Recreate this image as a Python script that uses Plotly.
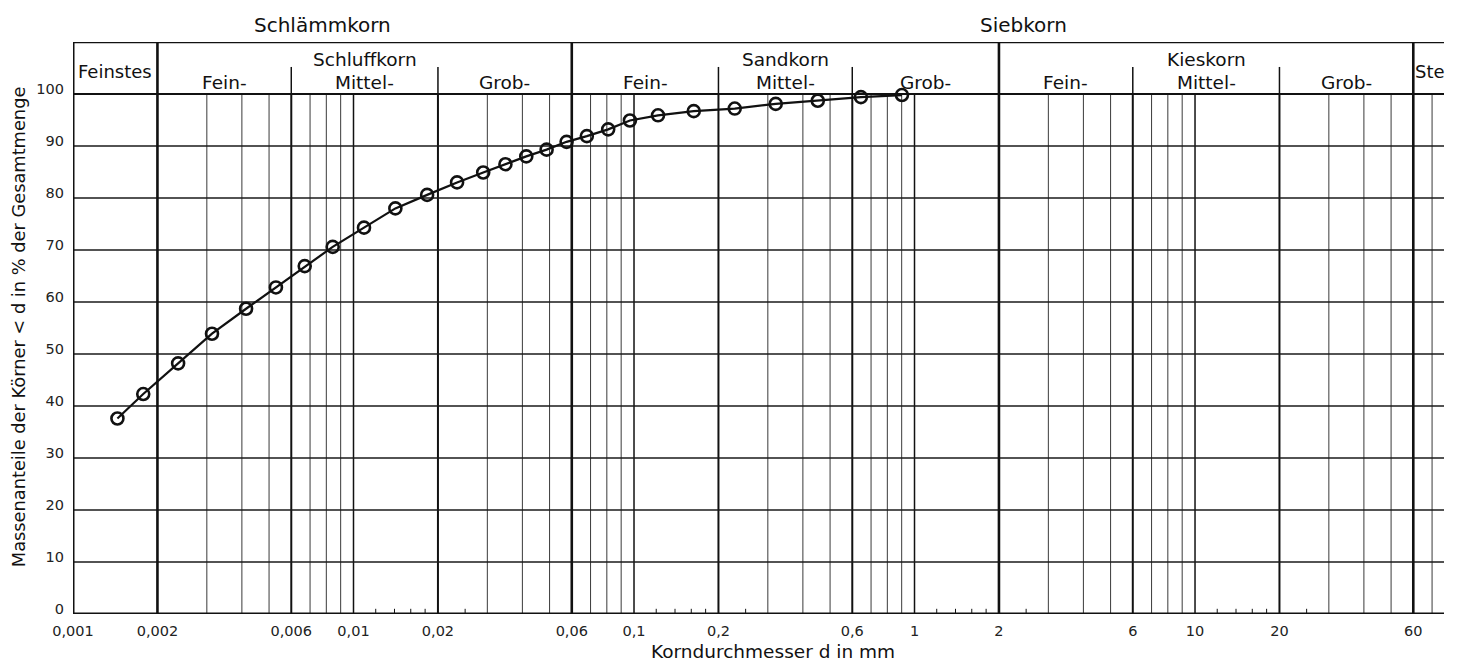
import plotly.graph_objects as go
import numpy as np

# ---- data ----
diameter_mm = [0.00144, 0.00178, 0.00237, 0.00313, 0.00414, 0.00529, 0.0067, 0.00843,
               0.0109, 0.0141, 0.0183, 0.0234, 0.0290, 0.0348, 0.0413, 0.0488, 0.0575,
               0.0679, 0.0809, 0.0967, 0.1218, 0.1633, 0.2286, 0.320, 0.452, 0.644, 0.902]
passing_pct = [37.6, 42.3, 48.2, 53.9, 58.7, 62.8, 66.9, 70.6, 74.3, 78.0, 80.6, 83.0,
               84.9, 86.5, 88.0, 89.3, 90.8, 91.9, 93.2, 94.9, 95.9, 96.7, 97.2, 98.1,
               98.7, 99.4, 99.8]

x_tick_vals = [0.001, 0.002, 0.006, 0.01, 0.02, 0.06, 0.1, 0.2, 0.6, 1, 2, 6, 10, 20, 60]
x_tick_text = ["0,001", "0,002", "0,006", "0,01", "0,02", "0,06", "0,1", "0,2", "0,6",
               "1", "2", "6", "10", "20", "60"]
y_tick_vals = [0, 10, 20, 30, 40, 50, 60, 70, 80, 90, 100]
y_tick_text = [str(v) for v in y_tick_vals]

# grid structure (axis values)
frame_lines = [0.001, 0.002, 0.06, 2, 60]
medium_lines = [0.006, 0.02, 0.2, 0.6, 6, 20]
decade_lines = [0.01, 0.1, 1, 10]
thin_lines = [0.003, 0.004, 0.005, 0.007, 0.008, 0.009, 0.03, 0.04, 0.05,
              0.07, 0.08, 0.09, 0.3, 0.4, 0.5, 0.7, 0.8, 0.9,
              3, 4, 5, 7, 8, 9, 30, 40, 50, 70]
minor_ticks = [0.012, 0.014, 0.016, 0.018, 0.025, 0.12, 0.14, 0.16, 0.18, 0.25,
               1.2, 1.4, 1.6, 1.8, 2.5, 12, 14, 16, 18, 25]
header_dividers = [0.006, 0.02, 0.2, 0.6, 6, 20]
h_grid = [10, 20, 30, 40, 50, 60, 70, 80, 90]

groups = [("Schluffkorn", 0.002, 0.06), ("Sandkorn", 0.06, 2), ("Kieskorn", 2, 60)]
sub_groups = [("Fein-", 0.002, 0.006), ("Mittel-", 0.006, 0.02), ("Grob-", 0.02, 0.06),
              ("Fein-", 0.06, 0.2), ("Mittel-", 0.2, 0.6), ("Grob-", 0.6, 2),
              ("Fein-", 2, 6), ("Mittel-", 6, 20), ("Grob-", 20, 60)]

X_MIN, X_MAX = 0.001, 77.2
Y_TOP = 110
FONT = "DejaVu Sans"
INK = "#111111"

fig = go.Figure()
fig.add_trace(go.Scatter(
    x=diameter_mm, y=passing_pct, mode="lines+markers",
    line=dict(color=INK, width=2.2),
    marker=dict(symbol="circle-open", size=12, color=INK, line=dict(width=2.6)),
    showlegend=False, cliponaxis=False))

shapes = []
def vline(x, y0, y1, w, c=INK):
    shapes.append(dict(type="line", xref="x", yref="y", x0=x, x1=x, y0=y0, y1=y1,
                       line=dict(color=c, width=w), layer="below"))
def hline(y, w, c=INK):
    shapes.append(dict(type="line", xref="x", yref="y", x0=X_MIN, x1=X_MAX, y0=y, y1=y,
                       line=dict(color=c, width=w), layer="below"))

for x in thin_lines:
    vline(x, 0, 100, 1, "#3a3a3a")
for x in decade_lines:
    vline(x, 0, 100, 1.5)
for x in medium_lines:
    vline(x, 0, 100, 2)
for x in header_dividers:
    vline(x, 100, 105.2, 1.5)
for x in minor_ticks:
    vline(x, 0, 1, 1)
for y in h_grid:
    hline(y, 1.4, "#1a1a1a")
hline(100, 2)
hline(Y_TOP, 2.5)
hline(0, 3)
for x in frame_lines:
    vline(x, 0, Y_TOP, 3 if x == 0.001 else 2.6)

ann = []
def lgm(a, b):
    # centre of a band on the log axis (annotations on log axes take log10 values)
    return (np.log10(a) + np.log10(b)) / 2
def text(x, y, s, size, xanchor="center", xref="x", yref="y", angle=0):
    ann.append(dict(x=x, y=y, xref=xref, yref=yref, text=s, showarrow=False,
                    xanchor=xanchor, yanchor="middle", textangle=angle,
                    font=dict(family=FONT, size=size, color=INK)))

# top-level headers sit above the axis range -> paper coordinates vertically
text(lgm(0.001, 0.06), 1.0297, "Schlämmkorn", 20, yref="paper")
text(0.387, 1.0297, "Siebkorn", 20, yref="paper")
text(lgm(0.001, 0.002), 104.4, "Feinstes", 18)
text(np.log10(60), 104.4, "Ste", 18, xanchor="left")
for name, a, b in groups:
    text(lgm(a, b), 106.7, name, 18.5)
for name, a, b in sub_groups:
    text(lgm(a, b), 102.2, name, 18.5)

text(-0.504, -0.066, "Korndurchmesser d in mm", 18.5, yref="paper")
text(-0.040, 0.5017, "Massenanteile der Körner &lt; d in % der Gesamtmenge", 17.8,
     xref="paper", yref="paper", angle=-90)

fig.update_layout(
    width=1453, height=656,
    margin=dict(l=65, r=17, t=34, b=50),
    paper_bgcolor="white", plot_bgcolor="white",
    shapes=shapes, annotations=ann,
    font=dict(family=FONT, color=INK),
    xaxis=dict(type="log", range=[np.log10(X_MIN), np.log10(X_MAX)],
               tickvals=x_tick_vals, ticktext=x_tick_text, showgrid=False,
               zeroline=False, showline=False, ticks="", ticklabelstandoff=6,
               tickfont=dict(family=FONT, size=14.5, color="#222222")),
    yaxis=dict(range=[0, Y_TOP], tickvals=y_tick_vals, ticktext=y_tick_text,
               showgrid=False, zeroline=False, showline=False, ticks="",
               ticklabelshift=-5, ticklabelstandoff=8,
               tickfont=dict(family=FONT, size=14.5, color="#222222")),
)

fig.write_html("out.html")
